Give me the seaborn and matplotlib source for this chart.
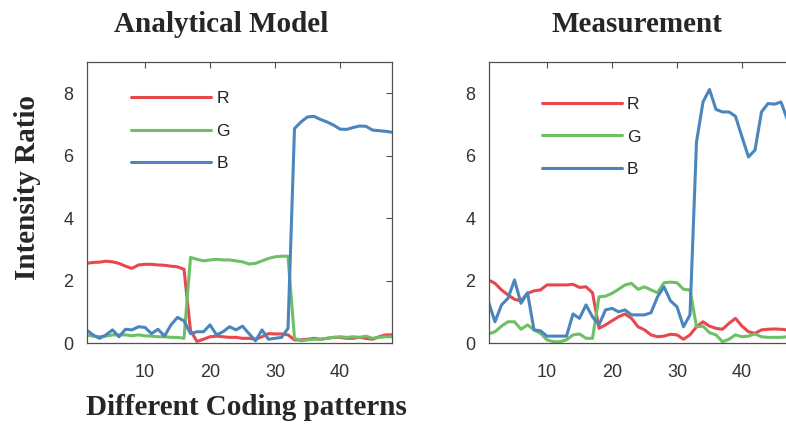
import matplotlib
matplotlib.use("Agg")
import matplotlib.pyplot as plt
import seaborn as sns
import pandas as pd

# coding pattern index 1..48
patterns = list(range(1, 49))

# analytical model
model_r = [2.55, 2.58, 2.59, 2.62, 2.60, 2.55, 2.46, 2.39, 2.50, 2.52, 2.52, 2.50,
           2.49, 2.46, 2.44, 2.36, 0.40, 0.05, 0.12, 0.20, 0.22, 0.20, 0.18, 0.18,
           0.15, 0.15, 0.12, 0.20, 0.30, 0.29, 0.29, 0.26, 0.10, 0.10, 0.12, 0.15,
           0.12, 0.15, 0.18, 0.18, 0.15, 0.15, 0.18, 0.15, 0.12, 0.20, 0.26, 0.26]
model_g = [0.26, 0.22, 0.20, 0.22, 0.26, 0.26, 0.26, 0.23, 0.26, 0.23, 0.22, 0.20,
           0.20, 0.18, 0.18, 0.15, 2.74, 2.68, 2.63, 2.66, 2.68, 2.66, 2.66, 2.63,
           2.60, 2.53, 2.55, 2.63, 2.71, 2.76, 2.78, 2.78, 0.15, 0.07, 0.10, 0.12,
           0.12, 0.15, 0.18, 0.20, 0.18, 0.20, 0.18, 0.22, 0.15, 0.18, 0.20, 0.20]
model_b = [0.42, 0.26, 0.15, 0.26, 0.42, 0.20, 0.44, 0.42, 0.52, 0.50, 0.30, 0.44,
           0.22, 0.58, 0.82, 0.71, 0.30, 0.36, 0.36, 0.58, 0.26, 0.36, 0.52, 0.42,
           0.54, 0.30, 0.07, 0.42, 0.12, 0.15, 0.18, 0.47, 6.87, 7.08, 7.24, 7.26,
           7.16, 7.08, 6.98, 6.85, 6.84, 6.90, 6.95, 6.94, 6.82, 6.80, 6.78, 6.75]

# measurement
meas_r = [2.02, 1.91, 1.70, 1.54, 1.40, 1.35, 1.59, 1.67, 1.70, 1.86, 1.86, 1.86,
          1.86, 1.88, 1.78, 1.80, 1.61, 0.47, 0.58, 0.71, 0.84, 0.93, 0.79, 0.52,
          0.42, 0.26, 0.20, 0.22, 0.28, 0.26, 0.12, 0.26, 0.52, 0.68, 0.54, 0.47,
          0.44, 0.63, 0.79, 0.54, 0.36, 0.31, 0.42, 0.44, 0.45, 0.44, 0.42, 0.42]
meas_g = [0.29, 0.36, 0.54, 0.68, 0.68, 0.44, 0.58, 0.42, 0.31, 0.10, 0.04, 0.04,
          0.10, 0.26, 0.29, 0.15, 0.15, 1.48, 1.50, 1.59, 1.72, 1.86, 1.91, 1.72,
          1.80, 1.70, 1.61, 1.93, 1.95, 1.93, 1.72, 1.70, 0.52, 0.54, 0.33, 0.26,
          0.04, 0.12, 0.26, 0.20, 0.22, 0.29, 0.20, 0.18, 0.18, 0.18, 0.20, 0.20]
meas_b = [1.32, 0.68, 1.22, 1.43, 2.02, 1.27, 1.61, 0.42, 0.39, 0.22, 0.22, 0.22,
          0.22, 0.93, 0.79, 1.22, 0.84, 0.58, 1.06, 1.11, 1.00, 1.06, 0.90, 0.90,
          0.90, 0.97, 1.48, 1.80, 1.35, 1.16, 0.52, 0.90, 6.44, 7.72, 8.12, 7.48,
          7.40, 7.40, 7.26, 6.60, 5.96, 6.18, 7.40, 7.67, 7.65, 7.72, 7.14, 6.80]

channels = ["R", "G", "B"]
colors = {"R": "#e8474c", "G": "#6dc065", "B": "#4a86bd"}


def long_frame(r, g, b):
    parts = []
    for name, vals in zip(channels, [r, g, b]):
        parts.append(pd.DataFrame({"pattern": patterns, "ratio": vals, "channel": name}))
    return pd.concat(parts, ignore_index=True)


sns.set_theme(style="white")
plt.rcParams["font.family"] = ["Liberation Sans", "DejaVu Sans"]

W, H = 786, 426
fig = plt.figure(figsize=(W / 100, H / 100), dpi=100)

def px_axes(x0, x1, y0, y1):
    return fig.add_axes([x0 / W, 1 - y1 / H, (x1 - x0) / W, (y1 - y0) / H])

ax1 = px_axes(86.5, 392, 62, 343)
ax2 = px_axes(488.5, 794, 62, 343)

panels = [(ax1, long_frame(model_r, model_g, model_b), (0.146, 0.897)),
          (ax2, long_frame(meas_r, meas_g, meas_b), (0.175, 0.876))]

for ax, df, leg_pos in panels:
    sns.lineplot(data=df, x="pattern", y="ratio", hue="channel", palette=colors,
                 hue_order=channels, linewidth=2.2, ax=ax)
    ax.set_xlim(1, 48)
    ax.set_ylim(0, 9)
    ax.set_xticks([10, 20, 30, 40])
    ax.set_yticks([0, 2, 4, 6, 8])
    ax.set_xlabel("")
    ax.set_ylabel("")
    for s in ax.spines.values():
        s.set_color("#505050")
        s.set_linewidth(0.9)
    ax.tick_params(direction="in", length=4, width=0.8, color="#505050",
                   top=True, right=True, labelsize=13, labelcolor="#333333")
    ax.tick_params(axis="x", pad=15)
    ax.tick_params(axis="y", pad=9.5)
    leg = ax.legend(loc="upper left", bbox_to_anchor=leg_pos, frameon=False,
                    fontsize=12.5, handlelength=4.6, handletextpad=0.3,
                    labelspacing=1.0, borderpad=0, borderaxespad=0)
    for line in leg.get_lines():
        line.set_linewidth(2.2)
    for t in leg.get_texts():
        t.set_color("#222222")

serif = ["Liberation Serif", "DejaVu Serif"]
fs = 21
fig.text(221 / W, 1 - 32 / H, "Analytical Model", ha="center", va="baseline",
         fontsize=fs, fontweight="bold", family=serif)
fig.text(636.5 / W, 1 - 32 / H, "Measurement", ha="center", va="baseline",
         fontsize=fs, fontweight="bold", family=serif)
fig.text(246 / W, 1 - 415 / H, "Different Coding patterns", ha="center", va="baseline",
         fontsize=fs, fontweight="bold", family=serif)
fig.text(35 / W, 1 - 187 / H, "Intensity Ratio", ha="center", va="baseline",
         rotation=90, rotation_mode="anchor", fontsize=fs, fontweight="bold",
         family=serif)

fig.savefig("out.png", dpi=100)
